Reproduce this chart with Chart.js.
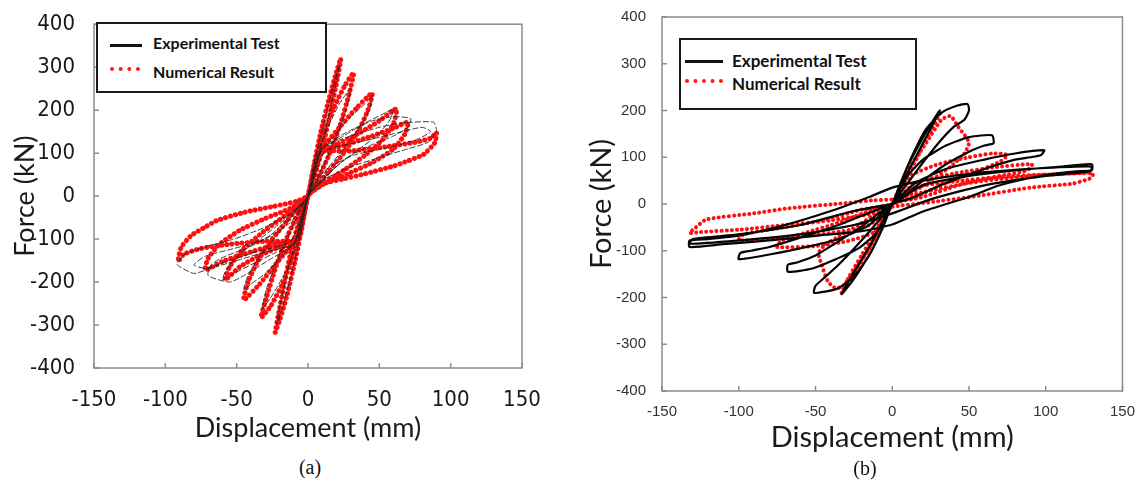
<!DOCTYPE html>
<html>
<head>
<meta charset="utf-8">
<title>Force - displacement hysteresis</title>
<script src="https://cdn.jsdelivr.net/npm/chart.js@4.4.0/dist/chart.umd.min.js"></script>
<style>
	html, body { margin:0; padding:0; background:#fff; }
	#page { position:relative; width:1139px; height:490px; overflow:hidden; background:#fff; }
	canvas { position:absolute; }
	#cvA { left:0; top:0; }
	#cvB { left:580px; top:0; }
	.lgbox { position:absolute; box-sizing:border-box; border:2px solid #1a1a1a; background:#fff; }
	.lgline { position:absolute; background:#111; height:3px; }
	.lgdots { position:absolute; height:0; border-top:4px dotted #ff1a1a; }
	.lgtext { position:absolute; white-space:nowrap; font-family:Lato, "Open Sans", sans-serif; font-weight:bold; color:#111; }
	.caption { position:absolute; transform:translateX(-50%); font-family:"Liberation Serif", "DejaVu Serif", serif; font-size:20px; line-height:24px; color:#111; }
</style>
</head>
<body>
<div id="page">
	<canvas id="cvA" width="560" height="450"></canvas>
	<canvas id="cvB" width="559" height="460"></canvas>

	<div class="lgbox" style="left:96px;top:22px;width:231px;height:71px;"></div>
	<div class="lgline" style="left:110px;top:44px;width:32px;"></div>
	<div class="lgdots" style="left:110px;top:67px;width:30px;"></div>
	<div class="lgtext" style="left:153px;top:33px;font-size:16px;line-height:20px;">Experimental Test</div>
	<div class="lgtext" style="left:153px;top:62px;font-size:16px;line-height:20px;">Numerical Result</div>

	<div class="lgbox" style="left:679px;top:38px;width:238px;height:72px;"></div>
	<div class="lgline" style="left:685px;top:60px;width:38px;"></div>
	<div class="lgdots" style="left:685px;top:79px;width:38px;"></div>
	<div class="lgtext" style="left:732px;top:50px;font-size:17px;line-height:22px;">Experimental Test</div>
	<div class="lgtext" style="left:732px;top:73px;font-size:17px;line-height:22px;">Numerical Result</div>

	<div class="caption" style="left:310px;top:455px;">(a)</div>
	<div class="caption" style="left:865px;top:456px;">(b)</div>
</div>

<script>
var dispTicks = [-150, -100, -50, 0, 50, 100, 150];
var forceTicks = [-400, -300, -200, -100, 0, 100, 200, 300, 400];

// (a) experimental test, [displacement mm, force kN]
var expA = [
	[0,0],[5,90],[12,180],[18,260],[22,305],[20,270],[14,180],[8,100],[3,35],[0,0],
	[-5,-90],[-12,-185],[-18,-260],[-22,-300],[-20,-260],[-14,-170],[-8,-95],[-3,-35],[0,0],
	[6,95],[14,160],[22,215],[30,250],[27,205],[20,140],[12,80],[5,30],[0,0],
	[-6,-95],[-14,-165],[-24,-225],[-32,-262],[-29,-215],[-21,-145],[-12,-80],[-5,-30],[0,0],
	[8,100],[18,140],[30,185],[40,215],[45,235],[43,200],[35,155],[25,110],[14,65],[5,22],[0,0],
	[-8,-100],[-18,-140],[-30,-180],[-40,-205],[-45,-218],[-42,-185],[-34,-140],[-24,-100],[-13,-55],[-5,-20],[0,0],
	[8,105],[25,140],[40,170],[52,190],[60,203],[57,175],[48,140],[36,110],[22,75],[10,35],[0,0],
	[-8,-105],[-25,-135],[-40,-160],[-52,-180],[-60,-195],[-57,-170],[-48,-135],[-36,-105],[-22,-70],[-10,-35],[0,0],
	[10,110],[28,150],[45,175],[60,185],[72,180],[70,160],[60,140],[45,120],[28,90],[12,45],[0,0],
	[-10,-110],[-28,-150],[-45,-185],[-55,-200],[-70,-185],[-68,-160],[-58,-140],[-42,-120],[-26,-90],[-12,-45],[0,0],
	[10,110],[30,140],[50,160],[65,170],[88,172],[90,150],[84,125],[70,110],[50,90],[30,68],[12,40],[0,0],
	[-10,-110],[-30,-130],[-50,-150],[-70,-170],[-80,-180],[-92,-158],[-86,-135],[-72,-118],[-52,-100],[-32,-75],[-12,-40],[0,0],
	[12,105],[35,125],[60,145],[80,160],[86,150],[75,130],[55,112],[32,95],[12,60],[0,0],
	[-12,-105],[-35,-128],[-55,-150],[-72,-168],[-80,-160],[-72,-140],[-52,-122],[-30,-100],[-12,-60],[0,0]
];

// (a) numerical result
var numA = [
	[0,0],[4,70],[9,150],[15,230],[20,290],[23,320],[21,280],[16,200],[10,110],[4,40],[0,0],
	[-4,-70],[-9,-150],[-15,-235],[-20,-290],[-23,-317],[-21,-280],[-17,-210],[-12,-130],[-6,-55],[0,0],
	[5,80],[11,145],[18,205],[26,258],[32,287],[29,240],[22,160],[14,90],[6,35],[0,0],
	[-5,-80],[-11,-145],[-18,-205],[-26,-255],[-33,-283],[-29,-235],[-22,-160],[-14,-90],[-6,-35],[0,0],
	[6,95],[12,120],[22,160],[34,205],[45,240],[42,200],[35,150],[25,100],[14,55],[5,18],[0,0],
	[-6,-95],[-13,-120],[-23,-160],[-34,-205],[-45,-242],[-42,-200],[-35,-150],[-25,-100],[-14,-55],[-5,-18],[0,0],
	[7,100],[20,120],[35,145],[50,175],[62,203],[60,170],[52,130],[40,95],[25,60],[10,28],[0,0],
	[-7,-100],[-20,-118],[-35,-140],[-48,-165],[-58,-195],[-55,-165],[-46,-125],[-34,-90],[-20,-55],[-8,-25],[0,0],
	[8,100],[25,118],[45,140],[60,158],[70,172],[68,145],[60,110],[45,78],[28,52],[12,30],[0,0],
	[-8,-100],[-25,-115],[-45,-135],[-60,-152],[-72,-172],[-70,-145],[-62,-112],[-48,-80],[-30,-52],[-12,-28],[0,0],
	[8,100],[30,105],[55,115],[75,125],[86,135],[90,148],[89,125],[81,97],[70,82],[60,70],[40,52],[25,40],[10,28],[0,0],
	[-8,-100],[-30,-105],[-55,-112],[-75,-122],[-87,-135],[-91,-152],[-89,-120],[-82,-92],[-72,-72],[-64,-57],[-45,-38],[-24,-24],[-8,-12],[0,0]
];

// (b) experimental test
var expB = [
	[0,0],[5,40],[10,80],[18,130],[25,170],[31,200],[28,180],[20,130],[12,80],[4,25],[0,0],
	[-5,-40],[-11,-85],[-18,-125],[-26,-165],[-33,-193],[-30,-175],[-22,-130],[-13,-80],[-5,-30],[0,0],
	[6,50],[14,110],[22,160],[32,195],[42,210],[49,214],[50,200],[47,180],[40,165],[30,130],[18,80],[8,35],[0,0],
	[-6,-50],[-15,-110],[-25,-155],[-35,-180],[-45,-188],[-51,-190],[-50,-175],[-45,-160],[-35,-130],[-22,-85],[-10,-40],[0,0],
	[10,60],[20,95],[35,125],[50,143],[65,147],[66,130],[60,125],[50,112],[35,85],[20,50],[8,18],[0,0],
	[-10,-60],[-22,-95],[-38,-120],[-52,-138],[-68,-145],[-68,-130],[-62,-125],[-50,-110],[-35,-80],[-20,-48],[-8,-18],[0,0],
	[15,45],[35,75],[60,95],[80,108],[99,115],[97,105],[90,100],[80,95],[60,75],[35,45],[12,12],[0,0],
	[-15,-45],[-35,-75],[-60,-95],[-80,-108],[-100,-118],[-99,-105],[-92,-100],[-80,-92],[-60,-72],[-35,-45],[-12,-15],[0,0],
	[20,40],[50,60],[80,72],[110,80],[130,85],[130,72],[120,70],[100,62],[70,40],[50,15],[20,-16],[0,-44],
	[-20,-58],[-50,-68],[-80,-78],[-110,-86],[-132,-92],[-132,-78],[-120,-75],[-100,-68],[-70,-45],[-40,-15],[-15,15],[0,35],
	[20,50],[60,68],[100,77],[130,80],[129,70],[100,60],[60,40],[25,10],[0,-20],
	[-25,-45],[-60,-65],[-100,-78],[-132,-85],[-130,-75],[-100,-65],[-60,-45],[-25,-15],[0,0]
];

// (b) numerical result
var numB = [
	[0,0],[8,50],[16,100],[24,150],[31,193],[26,160],[18,110],[10,60],[3,15],[0,0],
	[-8,-50],[-16,-100],[-25,-150],[-33,-190],[-28,-155],[-20,-110],[-11,-60],[-3,-15],[0,0],
	[10,70],[22,130],[32,180],[38,188],[43,165],[50,132],[47,108],[38,80],[25,50],[12,22],[0,0],
	[-10,-70],[-22,-130],[-32,-175],[-37,-180],[-42,-165],[-46,-130],[-48,-105],[-44,-88],[-35,-70],[-22,-45],[-10,-20],[0,0],
	[12,60],[30,85],[50,100],[65,108],[75,105],[70,90],[55,70],[35,45],[15,15],[0,0],
	[-12,-60],[-30,-80],[-50,-90],[-75,-92],[-72,-78],[-55,-60],[-35,-40],[-15,-15],[0,0],
	[15,45],[40,65],[65,78],[91,85],[88,72],[70,60],[45,42],[20,15],[0,0],
	[-15,-45],[-40,-62],[-70,-72],[-100,-78],[-97,-65],[-75,-52],[-45,-35],[-20,-12],[0,0],
	[15,35],[40,48],[70,58],[100,63],[125,66],[131,65],[129,55],[118,44],[90,35],[53,16],[20,2],[0,-6],
	[-12,-20],[-40,-35],[-70,-45],[-100,-55],[-125,-60],[-132,-62],[-128,-50],[-121,-33],[-90,-20],[-67,-9],[-30,2],[-12,8],[0,10],
	[20,25],[50,45],[90,60],[130,68]
];

function toPoints(arr) {
	return arr.map(function(p) { return {x:p[0], y:p[1]}; });
}

// box round the plot area plus small inward ticks (matlab style)
var framePlugin = {
	id: "frame",
	afterDraw: function(chart) {
		var a = chart.chartArea, ctx = chart.ctx;
		var sx = chart.scales.x, sy = chart.scales.y;
		ctx.save();
		ctx.strokeStyle = "#8c8c8c";
		ctx.lineWidth = 1.5;
		ctx.strokeRect(a.left, a.top, a.right - a.left, a.bottom - a.top);
		ctx.beginPath();
		sx.ticks.forEach(function(t) {
			var px = sx.getPixelForValue(t.value);
			ctx.moveTo(px, a.bottom); ctx.lineTo(px, a.bottom - 5);
		});
		sy.ticks.forEach(function(t) {
			var py = sy.getPixelForValue(t.value);
			ctx.moveTo(a.left, py); ctx.lineTo(a.left + 5, py);
		});
		ctx.stroke();
		ctx.restore();
	}
};

function makeChart(id, exp, num, o) {
	return new Chart(document.getElementById(id), {
		type: "scatter",
		data: {
			datasets: [{
				label: "Experimental Test",
				data: toPoints(exp),
				showLine: true,
				borderColor: o.expColor,
				borderWidth: o.expWidth,
				borderDash: o.expDash,
				pointRadius: 0,
				tension: 0.2
			}, {
				label: "Numerical Result",
				data: toPoints(num),
				showLine: true,
				borderColor: "#ff0f0f",
				borderWidth: o.numWidth,
				borderDash: [0.1, o.numGap],
				borderCapStyle: "round",
				pointRadius: 0,
				tension: 0.2
			}]
		},
		options: {
			responsive: false,
			animation: false,
			devicePixelRatio: 1,
			layout: { padding: o.pad },
			plugins: { legend: { display:false }, tooltip: { enabled:false } },
			scales: {
				x: {
					type: "linear", min: -150, max: 150,
					afterBuildTicks: function(s) { s.ticks = dispTicks.map(function(v) { return {value:v}; }); },
					afterFit: function(s) { s.height = o.xHeight; },
					grid: { display:false },
					border: { display:false },
					ticks: { font: o.tickFont, color: o.tickColor, padding: o.xTickPad, maxRotation: 0, autoSkip: false },
					title: { display:true, text:"Displacement (mm)", font: o.titleFont, color:"#1a1a1a", padding: { top:0, bottom:o.xTitlePad } }
				},
				y: {
					type: "linear", min: -400, max: 400,
					afterBuildTicks: function(s) { s.ticks = forceTicks.map(function(v) { return {value:v}; }); },
					afterFit: function(s) { s.width = o.yWidth; },
					grid: { display:false },
					border: { display:false },
					ticks: { font: o.tickFont, color: o.tickColor, padding: o.yTickPad, autoSkip: false },
					title: { display:true, text:"Force (kN)", font: o.titleFont, color:"#1a1a1a", padding: { top:o.yTitlePad, bottom:0 } }
				}
			}
		},
		plugins: [framePlugin]
	});
}

makeChart("cvA", expA, numA, {
	expColor: "rgba(30,30,30,0.85)", expWidth: 1, expDash: [6, 2],
	numWidth: 5, numGap: 5,
	pad: { top:17, right:38, left:0, bottom:0 },
	xHeight: 82, yWidth: 94,
	tickFont: { family:"'Liberation Sans Narrow', 'DejaVu Sans Condensed', 'Liberation Sans', sans-serif", size:22 },
	tickColor: "#1a1a1a",
	xTickPad: 11, yTickPad: 11,
	titleFont: { family:"Lato, 'Open Sans', sans-serif", size:27 },
	xTitlePad: 6, yTitlePad: 9
});

makeChart("cvB", expB, numB, {
	expColor: "#050505", expWidth: 2.2, expDash: [],
	numWidth: 4, numGap: 5,
	pad: { top:14, right:16, left:0, bottom:0 },
	xHeight: 69, yWidth: 82,
	tickFont: { family:"'Liberation Sans', Arial, sans-serif", size:15 },
	tickColor: "#333",
	xTickPad: 4, yTickPad: 8,
	titleFont: { family:"Lato, 'Open Sans', sans-serif", size:29 },
	xTitlePad: 5, yTitlePad: 4
});
</script>
</body>
</html>
